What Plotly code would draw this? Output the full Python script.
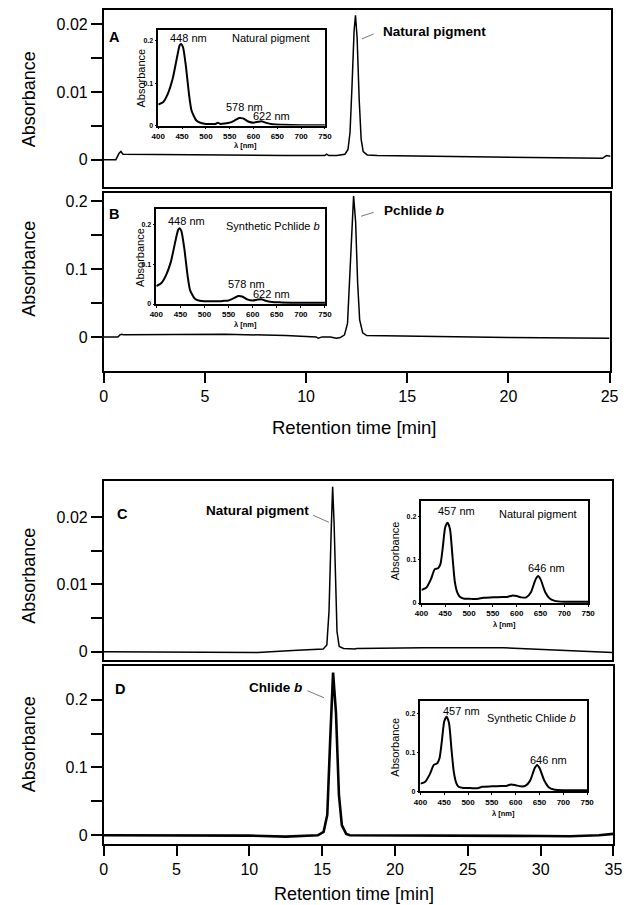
import plotly.graph_objects as go

W, H = 632, 905
FONT = "Liberation Sans, Arial, sans-serif"

# ---------------- data ----------------
# Panel A: HPLC, natural pigment (Pchlide b region), 0-25 min
time_a = [0, 0.6, 0.75, 0.85, 0.95, 1.1, 3.4, 3.6, 6.0, 9.0, 10.9, 11.0, 11.1, 11.5, 11.9,
          12.05, 12.15, 12.25, 12.35, 12.42, 12.5, 12.6, 12.7, 12.8, 13.0, 13.5, 16.0, 20.0,
          24.6, 24.8, 25.0]
abs_a = [0, 0, 0.0009, 0.0012, 0.0008, 0.0008, 0.0008, 0.0007, 0.0007, 0.0006, 0.0006, 0.0008,
         0.0006, 0.0006, 0.0008, 0.0015, 0.004, 0.011, 0.019, 0.0213, 0.018, 0.009, 0.003,
         0.0012, 0.0007, 0.0006, 0.0005, 0.0004, 0.0002, 0.0006, 0.0005]

# Panel B: HPLC, synthetic Pchlide b
time_b = [0, 0.7, 0.8, 0.9, 1.0, 3.2, 3.3, 3.4, 6.0, 9.0, 10.5, 10.6, 10.8, 11.2, 11.5, 11.7,
          11.9, 12.05, 12.2, 12.35, 12.45, 12.55, 12.65, 12.8, 13.0, 15.0, 20.0, 25.0]
abs_b = [0, 0, 0.003, 0.004, 0.003, 0.003, 0.004, 0.003, 0.004, 0.002, 0.0, -0.002, 0.0, 0.0,
         -0.002, -0.001, 0.003, 0.02, 0.12, 0.208, 0.17, 0.08, 0.025, 0.006, 0.002, 0.001,
         -0.001, -0.002]

# Panel C: HPLC, natural pigment (Chlide b region), 0-35 min
time_c = [0, 5.0, 10.6, 13.0, 15.1, 15.35, 15.5, 15.65, 15.75, 15.85, 15.95, 16.05, 16.2,
          16.5, 17.3, 17.4, 22.0, 27.5, 35.0]
abs_c = [0, 0, -0.0001, 0.0002, 0.0004, 0.001, 0.006, 0.018, 0.0245, 0.019, 0.009, 0.003,
         0.0008, 0.0005, 0.0004, 0.0005, 0.0006, 0.0006, -0.0001]

# Panel D: HPLC, synthetic Chlide b
time_d = [0, 5.0, 10.0, 12.5, 13.5, 14.7, 15.1, 15.35, 15.55, 15.75, 15.95, 16.15, 16.35,
          16.65, 16.9, 25.0, 30.0, 32.0, 34.0, 35.0]
abs_d = [0, -0.0005, -0.0005, -0.002, -0.001, 0, 0.005, 0.03, 0.14, 0.24, 0.18, 0.06, 0.015,
         0.002, 0, 0, -0.001, -0.0015, 0, 0.002]

# Inset spectra (Pchlide b)
wl_p = [400, 410, 420, 430, 440, 445, 448, 452, 458, 465, 470, 480, 490, 500, 510, 520, 525,
        530, 540, 550, 560, 570, 578, 590, 600, 610, 618, 625, 640, 660, 700, 750]
spec_a = [0.05, 0.055, 0.075, 0.11, 0.165, 0.19, 0.193, 0.185, 0.14, 0.07, 0.035, 0.012,
          0.006, 0.004, 0.004, 0.004, 0.007, 0.004, 0.005, 0.007, 0.012, 0.018, 0.017, 0.009,
          0.007, 0.009, 0.01, 0.007, 0.003, 0.002, 0.001, 0.001]
spec_b = [0.045, 0.052, 0.072, 0.105, 0.16, 0.185, 0.19, 0.183, 0.14, 0.07, 0.035, 0.013,
          0.008, 0.007, 0.007, 0.007, 0.007, 0.007, 0.008, 0.009, 0.014, 0.02, 0.019, 0.011,
          0.009, 0.011, 0.012, 0.009, 0.005, 0.004, 0.003, 0.003]

# Inset spectra (Chlide b)
wl_c = [400, 410, 420, 428, 435, 440, 445, 450, 455, 460, 465, 470, 475, 480, 490, 500, 510,
        520, 530, 550, 570, 580, 590, 600, 610, 620, 630, 640, 645, 650, 660, 670, 680, 700, 750]
spec_c = [0.03, 0.035, 0.055, 0.078, 0.08, 0.09, 0.13, 0.175, 0.185, 0.17, 0.11, 0.05, 0.025,
          0.015, 0.01, 0.01, 0.009, 0.01, 0.012, 0.013, 0.014, 0.014, 0.017, 0.016, 0.013,
          0.013, 0.025, 0.055, 0.062, 0.055, 0.025, 0.01, 0.005, 0.003, 0.003]
spec_d = [0.02, 0.025, 0.045, 0.068, 0.072, 0.085, 0.13, 0.18, 0.192, 0.175, 0.11, 0.05,
          0.022, 0.012, 0.009, 0.009, 0.008, 0.008, 0.012, 0.013, 0.014, 0.014, 0.018, 0.016,
          0.013, 0.014, 0.027, 0.06, 0.068, 0.06, 0.028, 0.01, 0.005, 0.003, 0.003]

# tick labels
yt_small = [0, 0.005, 0.01, 0.015, 0.02]
yt_small_text = ["0", "", "0.01", "", "0.02"]
yt_big = [0, 0.05, 0.1, 0.15, 0.2]
yt_big_text = ["0", "", "0.1", "", "0.2"]
xt_25 = [0, 5, 10, 15, 20, 25]
xt_35 = [0, 5, 10, 15, 20, 25, 30, 35]
inset_xt = [400, 450, 500, 550, 600, 650, 700, 750]
inset_yt = [0, 0.1, 0.2]
inset_yt_text = ["0", "0.1", "0.2"]


def fx(p):
    return p / W


def fy(p):
    return 1 - p / H


fig = go.Figure()

main_traces = [(1, time_a, abs_a, 1.5), (2, time_b, abs_b, 1.5),
               (3, time_c, abs_c, 1.5), (4, time_d, abs_d, 2.6)]
for i, xs, ys, lw in main_traces:
    fig.add_trace(go.Scatter(x=xs, y=ys, mode="lines", line=dict(color="black", width=lw),
                             xaxis="x" if i == 1 else f"x{i}", yaxis="y" if i == 1 else f"y{i}",
                             showlegend=False, hoverinfo="skip"))

inset_traces = [(5, wl_p, spec_a), (6, wl_p, spec_b), (7, wl_c, spec_c), (8, wl_c, spec_d)]
for i, xs, ys in inset_traces:
    fig.add_trace(go.Scatter(x=xs, y=ys, mode="lines",
                             line=dict(color="black", width=2, shape="spline", smoothing=0.6),
                             xaxis=f"x{i}", yaxis=f"y{i}", showlegend=False, hoverinfo="skip"))

layout = dict(width=W, height=H, margin=dict(l=0, r=0, t=0, b=0), autosize=False,
              paper_bgcolor="white", plot_bgcolor="white",
              font=dict(family=FONT, color="black"))

main_panels = [
    (1, (91, 611), (2, 180), [0, 25], [-0.0041, 0.0221], yt_small, yt_small_text, None),
    (2, (91, 610), (186, 364), [0, 25], [-0.05, 0.2118], yt_big, yt_big_text, xt_25),
    (3, (91, 613), (475, 654), [0, 35], [-0.0012, 0.0253], yt_small, yt_small_text, None),
    (4, (91, 614), (660, 839), [0, 35], [-0.0132, 0.25], yt_big, yt_big_text, xt_35),
]
for i, (x0, x1), (y0, y1), xr, yr, yt, ytt, xt in main_panels:
    xk = "xaxis" if i == 1 else f"xaxis{i}"
    yk = "yaxis" if i == 1 else f"yaxis{i}"
    ya = "y" if i == 1 else f"y{i}"
    xa = "x" if i == 1 else f"x{i}"
    layout[xk] = dict(domain=[fx(x0), fx(x1)], range=xr, anchor=ya, showgrid=False, zeroline=False,
                      showline=True, mirror=True, linecolor="black", linewidth=1.5,
                      ticks="outside" if xt else "", tickvals=xt if xt else [],
                      showticklabels=bool(xt), ticklen=10, tickwidth=1.5, tickcolor="black",
                      tickfont=dict(size=16, family=FONT))
    layout[yk] = dict(domain=[fy(y1), fy(y0)], range=yr, anchor=xa, showgrid=False, zeroline=False,
                      showline=True, mirror=True, linecolor="black", linewidth=1.5,
                      ticks="outside", tickvals=yt, ticktext=ytt, ticklen=11, tickwidth=1.5,
                      tickcolor="black", tickfont=dict(size=16, family=FONT))

inset_panels = [
    (5, (147, 318), (22, 118), [0, 0.226]),
    (6, (145, 318), (202, 297), [0, 0.2375]),
    (7, (417, 588), (495, 597), [0, 0.234]),
    (8, (416, 587), (695, 786), [0, 0.233]),
]
for i, (x0, x1), (y0, y1), yr in inset_panels:
    layout[f"xaxis{i}"] = dict(domain=[fx(x0), fx(x1)], range=[400, 750], anchor=f"y{i}",
                               showgrid=False, zeroline=False, showline=True, mirror=True,
                               linecolor="black", linewidth=1.5, ticks="outside", ticklen=2,
                               tickvals=inset_xt, tickcolor="black",
                               tickfont=dict(size=8, family=FONT, weight="bold"))
    layout[f"yaxis{i}"] = dict(domain=[fy(y1), fy(y0)], range=yr, anchor=f"x{i}",
                               showgrid=False, zeroline=False, showline=True, mirror=True,
                               linecolor="black", linewidth=1.5, ticks="outside", ticklen=2,
                               tickvals=inset_yt, ticktext=inset_yt_text, tickcolor="black",
                               tickfont=dict(size=7, family=FONT, weight="bold"))

fig.update_layout(**layout)


def ann(text, x, y, size, bold=False, angle=0, xanchor="center"):
    if bold:
        text = f"<b>{text}</b>"
    fig.add_annotation(text=text, x=fx(x), y=fy(y), xref="paper", yref="paper", showarrow=False,
                       xanchor=xanchor, yanchor="middle", textangle=angle,
                       font=dict(size=size, family=FONT, color="black"))


# main axis titles
for yc in (92, 262, 570, 739):
    ann("Absorbance", 14, yc, 18, angle=-90)
ann("Retention time [min]", 348, 421, 18.5)
ann("Retention time [min]", 348, 889, 18)

# panel letters
ann("A", 102, 29, 14.5, bold=True)
ann("B", 102, 207, 14.5, bold=True)
ann("C", 110, 508, 14.5, bold=True)
ann("D", 108, 683, 14.5, bold=True)

# peak labels
ann("Natural pigment", 376, 24, 13.5, bold=True, xanchor="left")
ann("Pchlide <i>b</i>", 377, 203, 13.5, bold=True, xanchor="left")
ann("Natural pigment", 304, 504, 13.5, bold=True, xanchor="right")
ann("Chlide <i>b</i>", 297, 682, 13.5, bold=True, xanchor="right")

for (xa, ya, xb, yb) in [(356, 31, 368, 26), (355, 209, 368, 205),
                         (306, 509, 322, 516), (300, 685, 317, 692)]:
    fig.add_shape(type="line", xref="paper", yref="paper", x0=fx(xa), y0=fy(ya), x1=fx(xb), y1=fy(yb),
                  line=dict(color="#555555", width=0.8))

# inset texts
ann("448 nm", 178, 30, 11)
ann("Natural pigment", 263, 30, 11)
ann("578 nm", 235, 99, 11)
ann("622 nm", 263, 108, 11)
ann("Absorbance", 129, 70, 11, angle=-90)
ann("λ [nm]", 236, 138, 7.5, bold=True)

ann("448 nm", 176, 214, 11)
ann("Synthetic Pchlide <i>b</i>", 265, 219, 11)
ann("578 nm", 237, 277, 11)
ann("622 nm", 263, 287, 11)
ann("Absorbance", 128, 250, 11, angle=-90)
ann("λ [nm]", 236, 318, 7.5, bold=True)

ann("457 nm", 453, 505, 11)
ann("Natural pigment", 537, 508, 11)
ann("646 nm", 545, 562, 11)
ann("Absorbance", 390, 545, 11, angle=-90)
ann("λ [nm]", 502, 619, 7.5, bold=True)

ann("457 nm", 458, 705, 11)
ann("Synthetic Chlide <i>b</i>", 530, 712, 11)
ann("646 nm", 547, 754, 11)
ann("Absorbance", 389, 742, 11, angle=-90)
ann("λ [nm]", 501, 808, 7.5, bold=True)

fig.write_html("out.html")
